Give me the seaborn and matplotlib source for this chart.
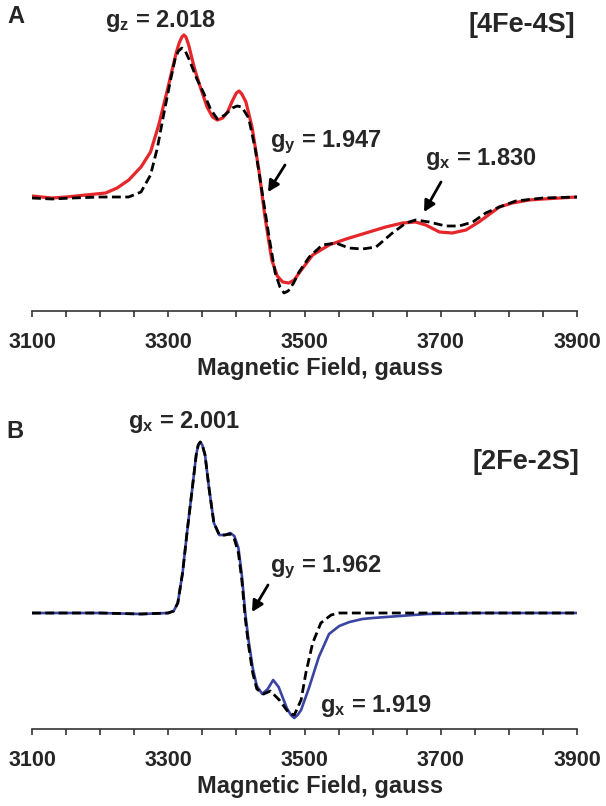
import numpy as np
import pandas as pd
import matplotlib
matplotlib.use("Agg")
import matplotlib.pyplot as plt
import seaborn as sns

# [4Fe-4S] spectrum (panel A), signal in arbitrary units, baseline = 0
field_a_exp = [3100, 3129, 3150, 3179, 3208, 3225, 3242, 3260, 3274, 3286, 3298, 3306, 3312, 3316,
               3320, 3323, 3326, 3330, 3335, 3340, 3348, 3357, 3365, 3372, 3380, 3387, 3394, 3400,
               3404, 3408, 3414, 3423, 3433, 3442, 3452, 3460, 3468, 3477, 3485, 3492, 3512, 3536,
               3561, 3590, 3619, 3644, 3663, 3678, 3698, 3717, 3737, 3756, 3776, 3786, 3805, 3830,
               3850, 3875, 3900]
signal_a_exp = [1, -1, 0, 2, 4, 9, 17, 30, 45, 72, 105, 128, 145, 154,
                160, 162, 160, 152, 138, 125, 108, 90, 80, 77, 79, 85, 96, 104,
                106, 103, 95, 70, 27, -20, -63, -79, -85, -86, -83, -76, -58, -48,
                -42, -36, -30, -26, -25, -28, -35, -36, -33, -25, -15, -10, -6, -3,
                -2, -1, 0]

field_a_sim = [3100, 3129, 3160, 3200, 3242, 3260, 3274, 3284, 3294, 3304, 3310, 3315, 3320, 3325,
               3331, 3342, 3352, 3362, 3372, 3383, 3394, 3401, 3408, 3418, 3428, 3438, 3448, 3457,
               3464, 3470, 3476, 3484, 3492, 3507, 3526, 3546, 3565, 3585, 3605, 3629, 3649, 3663,
               3683, 3707, 3727, 3747, 3766, 3786, 3810, 3850, 3900]
signal_a_sim = [-1, -2, -1, 0, 0, 5, 22, 49, 85, 119, 138, 146, 149, 146,
                137, 118, 104, 88, 78, 82, 89, 91, 90, 79, 47, 4, -40, -76,
                -90, -96, -94, -86, -75, -60, -48, -46, -51, -52, -50, -36, -26, -23,
                -25, -29, -29, -25, -16, -10, -4, -1, 0]

# [2Fe-2S] spectrum (panel B)
field_b_exp = [3100, 3200, 3260, 3300, 3308, 3314, 3321, 3328, 3335, 3341, 3344, 3347, 3350, 3354,
               3360, 3367, 3375, 3383, 3391, 3397, 3403, 3408, 3413, 3418, 3424, 3430, 3438, 3446,
               3454, 3462, 3474, 3480, 3485, 3490, 3495, 3507, 3521, 3536, 3551, 3566, 3585, 3600,
               3640, 3680, 3750, 3900]
signal_b_exp = [0, 0, -1, 0, 2, 10, 40, 83, 123, 158, 168, 171, 168, 158,
                124, 90, 78, 78, 80, 77, 65, 38, 0, -28, -55, -73, -81, -76,
                -67, -74, -95, -102, -105, -102, -97, -74, -44, -21, -13, -9, -6, -5,
                -3, -1, 0, 0]

field_b_sim = [3100, 3200, 3260, 3300, 3308, 3314, 3321, 3328, 3335, 3341, 3344, 3347, 3350, 3354,
               3360, 3367, 3375, 3383, 3391, 3397, 3403, 3408, 3413, 3418, 3424, 3430, 3440, 3450,
               3463, 3477, 3485, 3495, 3502, 3512, 3524, 3539, 3551, 3900]
signal_b_sim = [0, 0, -1, 0, 2, 10, 40, 83, 123, 158, 168, 171, 168, 158,
                124, 90, 78, 78, 79, 74, 60, 33, -5, -33, -60, -76, -81, -78,
                -87, -100, -102, -87, -60, -30, -10, -2, 0, 0]

major_ticks = np.arange(3100, 3901, 200)
minor_ticks = np.arange(3100, 3901, 50)

sns.set_style("white")
plt.rcParams['font.family'] = ['Liberation Sans', 'DejaVu Sans']
plt.rcParams['font.weight'] = 'bold'
plt.rcParams['mathtext.fontset'] = 'custom'
plt.rcParams['mathtext.rm'] = 'Liberation Sans:bold'
plt.rcParams['mathtext.it'] = 'Liberation Sans:bold'
plt.rcParams['mathtext.bf'] = 'Liberation Sans:bold'
plt.rcParams['mathtext.default'] = 'bf'

W, H = 606, 806
fig = plt.figure(figsize=(W / 100, H / 100), dpi=100)


def box(x0, y_top, x1, y_bot):
    return [x0 / W, 1 - y_bot / H, (x1 - x0) / W, (y_bot - y_top) / H]


AX_L, AX_R = 32, 577
ax_a = fig.add_axes(box(AX_L, 0, AX_R, 311))
ax_b = fig.add_axes(box(AX_L, 395, AX_R, 729))

red = "#e5262b"
blue = "#3a44a2"

sns.lineplot(x=field_a_exp, y=signal_a_exp, ax=ax_a, color=red, lw=2.3, sort=False, estimator=None)
sns.lineplot(x=field_a_sim, y=signal_a_sim, ax=ax_a, color="black", lw=2.0, sort=False,
             estimator=None, linestyle=(0, (3.2, 1.6)))
sns.lineplot(x=field_b_exp, y=signal_b_exp, ax=ax_b, color=blue, lw=1.9, sort=False, estimator=None)
sns.lineplot(x=field_b_sim, y=signal_b_sim, ax=ax_b, color="black", lw=2.0, sort=False,
             estimator=None, linestyle=(0, (3.2, 1.6)))


def style(ax, ylim, height_px):
    ax.set_xlim(3100, 3900)
    ax.set_ylim(*ylim)
    ax.set_xticks(major_ticks)
    ax.set_xticks(minor_ticks, minor=True)
    for s in ["top", "left", "right"]:
        ax.spines[s].set_visible(False)
    ax.spines["bottom"].set_linewidth(1.2)
    ax.spines["bottom"].set_color("#333333")
    ax.set_yticks([])
    ax.set_ylabel("")
    ax.tick_params(axis="x", which="both", bottom=True, direction="out", length=4.3, width=1.2,
                   color="#333333")
    ax.tick_params(axis="x", which="major", labelsize=15.5, pad=11)
    ax.set_xlabel("Magnetic Field, gauss", fontsize=17, fontweight="bold")
    # label sits a bit right of the axis centre, cap top ~46 px below the axis line
    ax.xaxis.set_label_coords((320 - AX_L) / (AX_R - AX_L), -46 / height_px)
    ax.patch.set_alpha(0)


style(ax_a, (-114, 197), 311)
style(ax_b, (-116, 218), 334)


def label(x, y, s, size=17, ha="left"):
    fig.text(x / W, 1 - y / H, s, fontsize=size, fontweight="bold", ha=ha, va="baseline")


def arrow(tail, head):
    fig.add_artist(matplotlib.patches.FancyArrowPatch(
        (tail[0] / W, 1 - tail[1] / H), (head[0] / W, 1 - head[1] / H),
        transform=fig.transFigure, arrowstyle="-|>,head_length=6.5,head_width=3.4",
        color="black", lw=2.0, shrinkA=0, shrinkB=0))


label(7, 23, "A", size=17)
label(105, 27, r"g$_{z}$ = 2.018")
label(575, 32, "[4Fe-4S]", size=19.5, ha="right")
label(270, 147, r"g$_{y}$ = 1.947")
label(425, 165, r"g$_{x}$ = 1.830")
arrow((285, 165), (268, 192))
arrow((441, 182), (424, 212))

label(6, 438, "B", size=17)
label(128, 428, r"g$_{x}$ = 2.001")
label(579, 469, "[2Fe-2S]", size=19.5, ha="right")
label(270, 572, r"g$_{y}$ = 1.962")
label(320, 712, r"g$_{x}$ = 1.919")
arrow((268, 585), (252, 612))

fig.savefig("out.png", dpi=100)
